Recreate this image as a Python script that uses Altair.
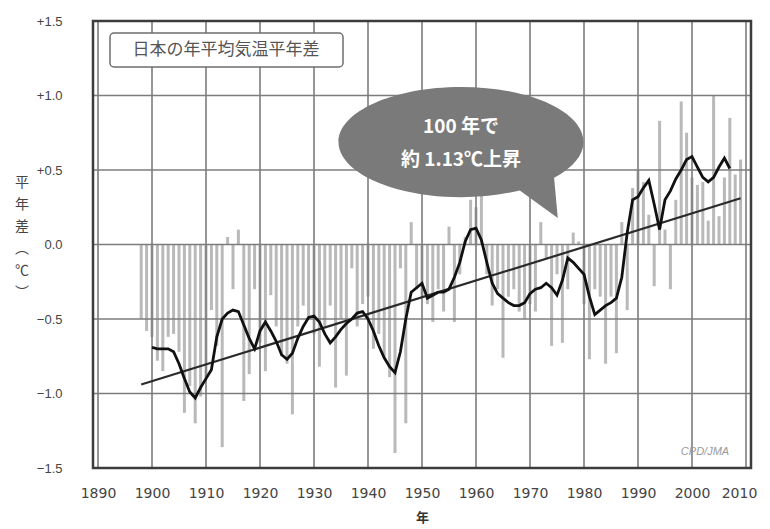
import altair as alt
import pandas as pd

# ---- data ----
years = list(range(1898, 2010))
anomaly = [
    -0.50, -0.58, -0.62, -0.78, -0.85, -0.62, -0.60, -0.72, -1.13, -0.95,   # 1898-1907
    -1.20, -1.02, -0.90, -0.44, -0.68, -1.36, 0.05, -0.30, 0.10, -1.05,     # 1908-1917
    -0.87, -0.30, -0.66, -0.85, -0.34, -0.55, -0.75, -0.80, -1.14, -0.55,   # 1918-1927
    -0.41, -0.50, -0.60, -0.82, -0.55, -0.41, -0.96, -0.50, -0.88, -0.16,   # 1928-1937
    -0.55, -0.40, -0.35, -0.70, -0.60, -0.75, -0.89, -1.40, -0.16, -1.20,   # 1938-1947
    0.15, -0.30, -0.35, -0.40, -0.52, -0.30, -0.45, 0.12, -0.52, -0.20,     # 1948-1957
    0.05, 0.30, 0.25, 0.38, -0.20, -0.41, -0.30, -0.76, -0.35, -0.30,       # 1958-1967
    -0.45, -0.50, -0.40, -0.45, 0.15, -0.10, -0.68, -0.20, -0.66, -0.30,    # 1968-1977
    0.08, 0.02, -0.40, -0.77, -0.30, -0.35, -0.80, -0.35, -0.73, 0.15,      # 1978-1987
    -0.44, 0.38, 0.50, 0.42, 0.20, -0.28, 0.83, 0.10, -0.30, 0.30,          # 1988-1997
    0.96, 0.75, 0.45, 0.40, 0.42, 0.16, 1.00, 0.19, 0.45, 0.85,             # 1998-2007
    0.47, 0.57,                                                             # 2008-2009
]
mean_years = list(range(1900, 2008))
mean_vals = [
    -0.69, -0.70, -0.70, -0.70, -0.72, -0.80, -0.90, -0.99, -1.03, -0.96,   # 1900-1909
    -0.90, -0.84, -0.62, -0.50, -0.46, -0.44, -0.45, -0.54, -0.63, -0.70,   # 1910-1919
    -0.58, -0.52, -0.58, -0.65, -0.74, -0.77, -0.73, -0.63, -0.55, -0.49,   # 1920-1929
    -0.48, -0.52, -0.60, -0.66, -0.62, -0.57, -0.53, -0.50, -0.46, -0.45,   # 1930-1939
    -0.50, -0.58, -0.68, -0.76, -0.82, -0.86, -0.72, -0.50, -0.32, -0.29,   # 1940-1949
    -0.26, -0.36, -0.34, -0.32, -0.32, -0.30, -0.22, -0.12, 0.02, 0.10,     # 1950-1959
    0.11, 0.03, -0.12, -0.26, -0.33, -0.36, -0.39, -0.41, -0.41, -0.39,     # 1960-1969
    -0.33, -0.30, -0.29, -0.26, -0.29, -0.34, -0.24, -0.09, -0.12, -0.16,   # 1970-1979
    -0.20, -0.35, -0.47, -0.44, -0.41, -0.39, -0.36, -0.22, 0.08, 0.30,     # 1980-1989
    0.32, 0.38, 0.43, 0.27, 0.10, 0.30, 0.36, 0.44, 0.50, 0.57,             # 1990-1999
    0.59, 0.52, 0.45, 0.42, 0.45, 0.52, 0.58, 0.51,                         # 2000-2007
]
trend_years = [1898, 2009]
trend_vals = [-0.94, 0.31]
x_ticks = [1890, 1900, 1910, 1920, 1930, 1940, 1950, 1960, 1970, 1980, 1990, 2000, 2010]
y_ticks = [-1.5, -1.0, -0.5, 0.0, 0.5, 1.0, 1.5]

title_text = ["日本の年平均気温平年差"]
bubble_line1 = ["100 年で"]
bubble_line2 = ["約 1.13℃上昇"]
credit = ["CPD/JMA"]
y_title = ["平\n年\n差\n︵\n℃\n︶"]
x_title = "年"

JP = "Noto Sans CJK JP"
LAT = "Liberation Sans"
W, H = 658, 447

xscale = alt.Scale(domain=[1890, 2010], nice=False, zero=False)
yscale = alt.Scale(domain=[-1.5, 1.5], nice=False, zero=False)

xaxis = alt.Axis(values=x_ticks, format="d", grid=False, ticks=False, tickSize=0,
                 domain=False, labelPadding=18, labelFontSize=14, labelColor="#444",
                 labelFont="DejaVu Sans", titleFont=JP, titleFontSize=13, titleColor="#333",
                 titleFontWeight="bold", titlePadding=11, labelFlush=False,
                 labelOffset={"condition": {"test": "datum.value == 2010", "value": -7}, "value": 0})
yaxis = alt.Axis(values=y_ticks, grid=False, ticks=False, tickSize=0, domain=False,
                 labelPadding=31, labelFontSize=13, labelColor="#444", labelFont=LAT,
                 labelExpr="datum.value > 0 ? '+' + format(datum.value, '.1f') : "
                           "(datum.value < 0 ? '\u2212' + format(-datum.value, '.1f') : '0.0')")


def X():
    return alt.X("year:Q", scale=xscale, title=x_title, axis=xaxis)


def Y():
    return alt.Y("anom:Q", scale=yscale, title=None, axis=yaxis)


bars_df = pd.DataFrame({"year": years, "anom": anomaly})
mean_df = pd.DataFrame({"year": mean_years, "anom": mean_vals})
trend_df = pd.DataFrame({"year": trend_years, "anom": trend_vals})
one = pd.DataFrame({"k": [0]})

bars = alt.Chart(bars_df).mark_bar(color="#b9b9b9", width=3).encode(
    x=X(), y=Y(), y2=alt.datum(0)
)

vgrid = alt.Chart(pd.DataFrame({"year": x_ticks})).mark_rule(color="#7c7c7c", strokeWidth=1.6).encode(x=X())
hgrid = alt.Chart(pd.DataFrame({"anom": y_ticks})).mark_rule(color="#7c7c7c", strokeWidth=1.6).encode(y=Y())

mean_line = alt.Chart(mean_df).mark_line(color="#111111", strokeWidth=2.8).encode(x=X(), y=Y())
trend_line = alt.Chart(trend_df).mark_line(color="#2a2a2a", strokeWidth=2.2).encode(x=X(), y=Y())

frame = alt.Chart(one).mark_rect(fillOpacity=0, stroke="#3c3c3c", strokeWidth=2.5).encode(
    x=alt.value(0), x2=alt.value(W), y=alt.value(0), y2=alt.value(H)
)

title_box = alt.Chart(one).mark_rect(fill="white", stroke="#6e6e6e", strokeWidth=1.5, cornerRadius=4).encode(
    x=alt.value(17), x2=alt.value(250), y=alt.value(12), y2=alt.value(46)
)
title_lbl = alt.Chart(pd.DataFrame({"t": title_text})).mark_text(
    font=JP, fontSize=17, color="#555555", align="center", baseline="middle"
).encode(x=alt.value(133), y=alt.value(29), text="t:N")

bubble_path = ("M -1 0 A 1 0.45 0 0 1 1 0 A 1 0.45 0 0 1 0.76 0.292 "
               "L 0.79 0.62 L 0.48 0.395 A 1 0.45 0 0 1 -1 0 Z")
bubble = alt.Chart(one).mark_point(
    shape=bubble_path, size=245 * 245, filled=True, fill="#7a7a7a", opacity=1, strokeWidth=0
).encode(x=alt.value(368), y=alt.value(121))

b1 = alt.Chart(pd.DataFrame({"t": bubble_line1})).mark_text(
    font=JP, fontSize=19, fontWeight="bold", color="white", align="center", baseline="middle"
).encode(x=alt.value(368), y=alt.value(106), text="t:N")
b2 = alt.Chart(pd.DataFrame({"t": bubble_line2})).mark_text(
    font=JP, fontSize=19, fontWeight="bold", color="white", align="center", baseline="middle"
).encode(x=alt.value(368), y=alt.value(139), text="t:N")

credit_lbl = alt.Chart(pd.DataFrame({"t": credit})).mark_text(
    font=LAT, fontSize=11, fontStyle="italic", color="#9a9a9a", align="center", baseline="middle"
).encode(x=alt.value(612), y=alt.value(431), text="t:N")

ytitle = alt.Chart(pd.DataFrame({"t": y_title})).mark_text(
    font=JP, fontSize=14, color="#444", align="center", baseline="middle", lineBreak="\n", lineHeight=22
).encode(x=alt.value(-71), y=alt.value(162), text="t:N")

chart = alt.layer(
    bars, vgrid, hgrid, trend_line, mean_line, frame, title_box, title_lbl, bubble,
    b1, b2, credit_lbl, ytitle
).properties(
    width=W, height=H,
    autosize=alt.AutoSizeParams(type="none"),
    padding={"left": 85, "top": 13, "right": 11, "bottom": 58},
).configure_view(stroke=None).configure(background="white")

chart.save("out.html", embed_options={"renderer": "svg", "actions": False})
